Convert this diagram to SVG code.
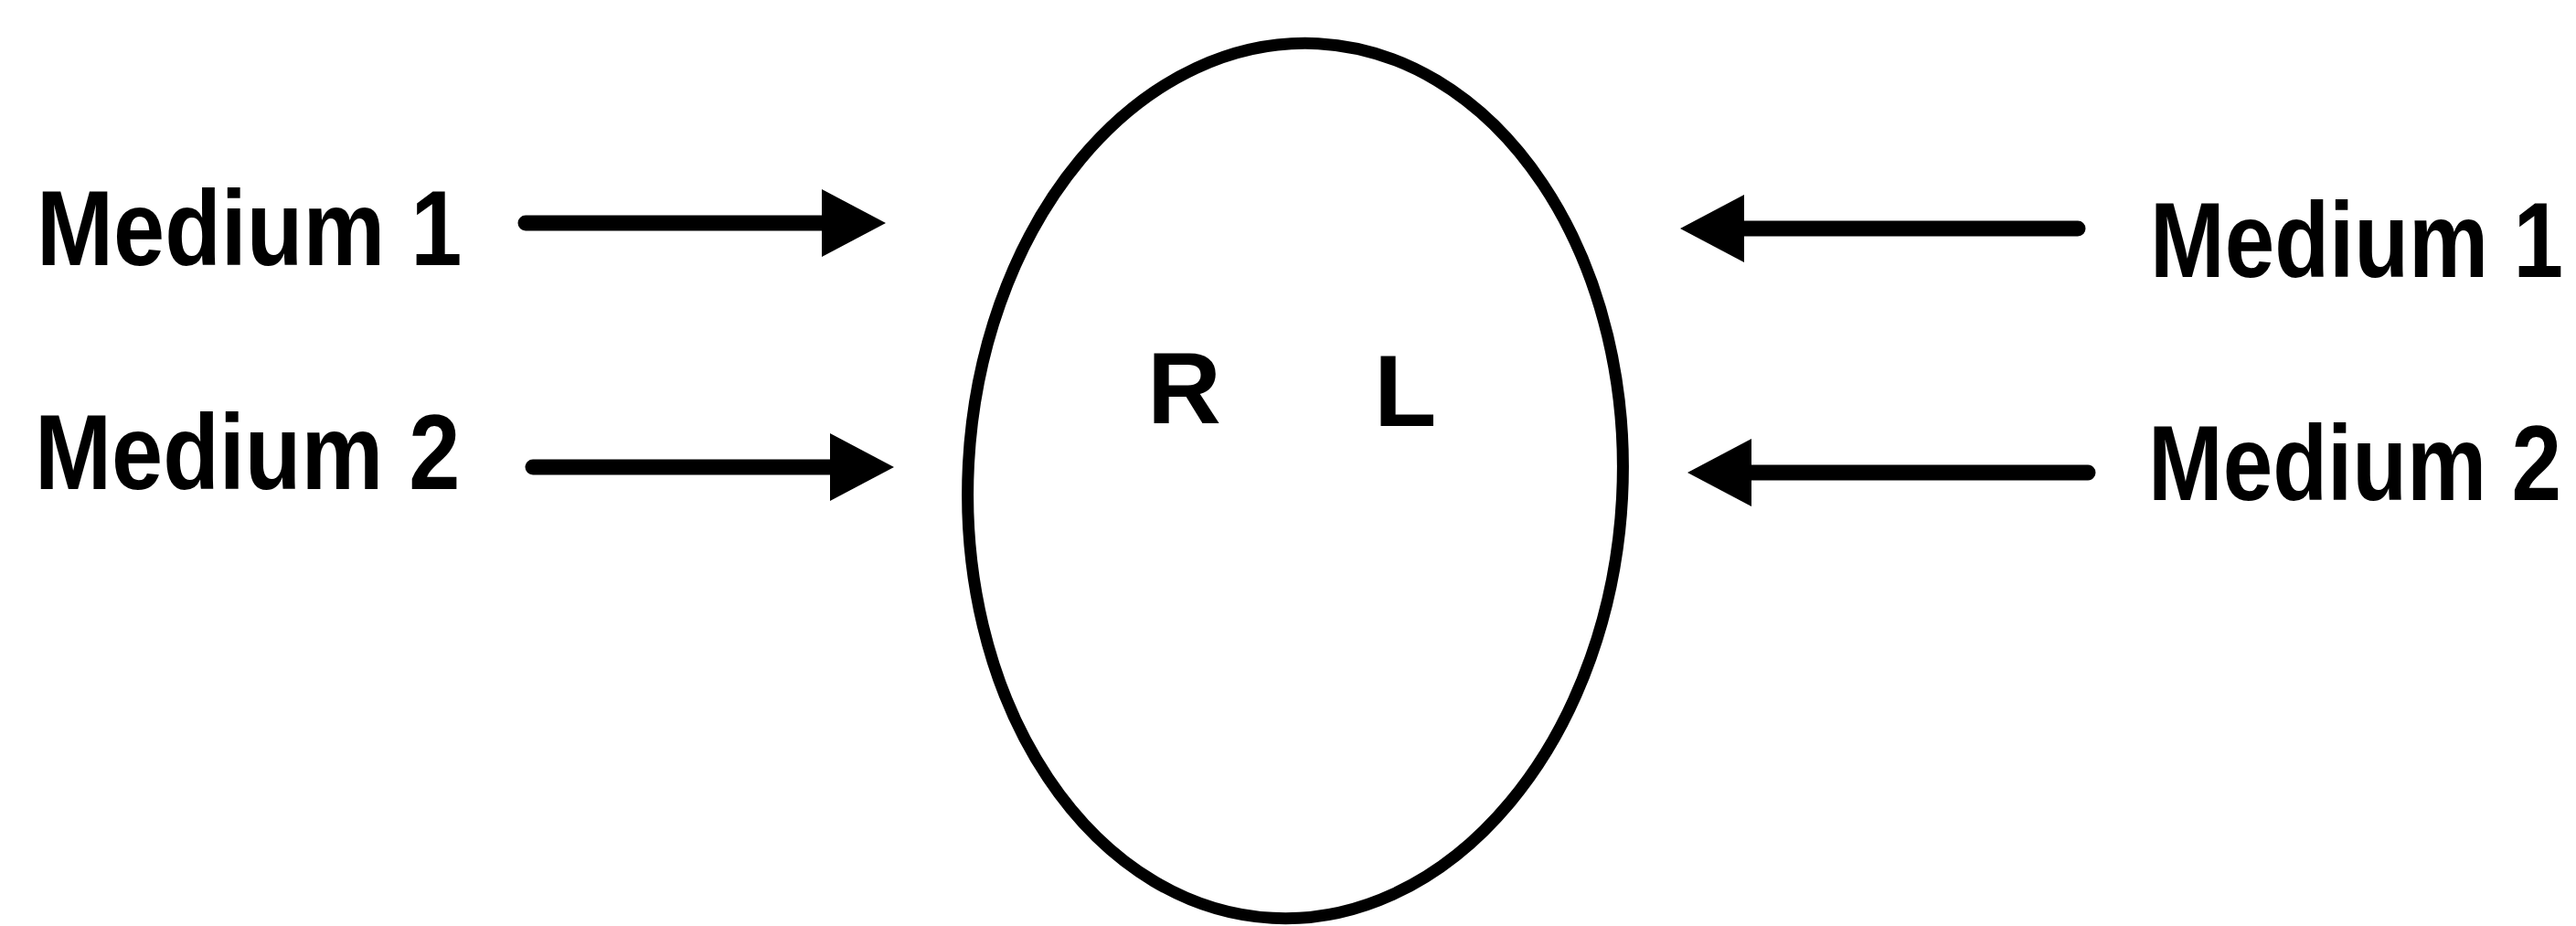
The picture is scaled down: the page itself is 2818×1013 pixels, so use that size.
<svg xmlns="http://www.w3.org/2000/svg" width="2818" height="1013" viewBox="0 0 2818 1013">
  <style>
    .lbl { font-family: "Liberation Sans", Arial, sans-serif; font-weight: bold; font-size: 116px; fill: #000; }
    .sym { font-family: "Liberation Sans", Arial, sans-serif; font-weight: bold; font-size: 112px; fill: #000; }
    .arr { stroke: #000; stroke-width: 17; stroke-linecap: round; fill: none; marker-end: url(#head); }
  </style>
  <defs>
    <marker id="head" markerUnits="userSpaceOnUse" viewBox="0 0 70 74" markerWidth="70" markerHeight="74" refX="0" refY="37" orient="auto">
      <path d="M0,0 L70,37 L0,74 Z" fill="#000"/>
    </marker>
  </defs>
  <rect width="2818" height="1013" fill="#fff"/>
  <g id="cell">
    <ellipse cx="1417" cy="526" rx="358" ry="479" fill="none" stroke="#000" stroke-width="13" transform="rotate(3 1417 526)"/>
    <text class="sym" x="1255" y="463">R</text>
    <text class="sym" x="1503" y="466">L</text>
  </g>
  <g id="label-left-1"><text class="lbl" transform="translate(40 290) scale(0.87 1)">Medium 1</text></g>
  <g id="label-left-2"><text class="lbl" transform="translate(38 535) scale(0.87 1)">Medium 2</text></g>
  <g id="label-right-1"><text class="lbl" transform="translate(2352 303) scale(0.845 1)">Medium 1</text></g>
  <g id="label-right-2"><text class="lbl" transform="translate(2350 547) scale(0.845 1)">Medium 2</text></g>
  <g id="connectors">
    <line class="arr" x1="575" y1="244" x2="899" y2="244"/>
    <line class="arr" x1="583" y1="511" x2="908" y2="511"/>
    <line class="arr" x1="2273" y1="250" x2="1908" y2="250"/>
    <line class="arr" x1="2284" y1="517" x2="1916" y2="517"/>
  </g>
</svg>
